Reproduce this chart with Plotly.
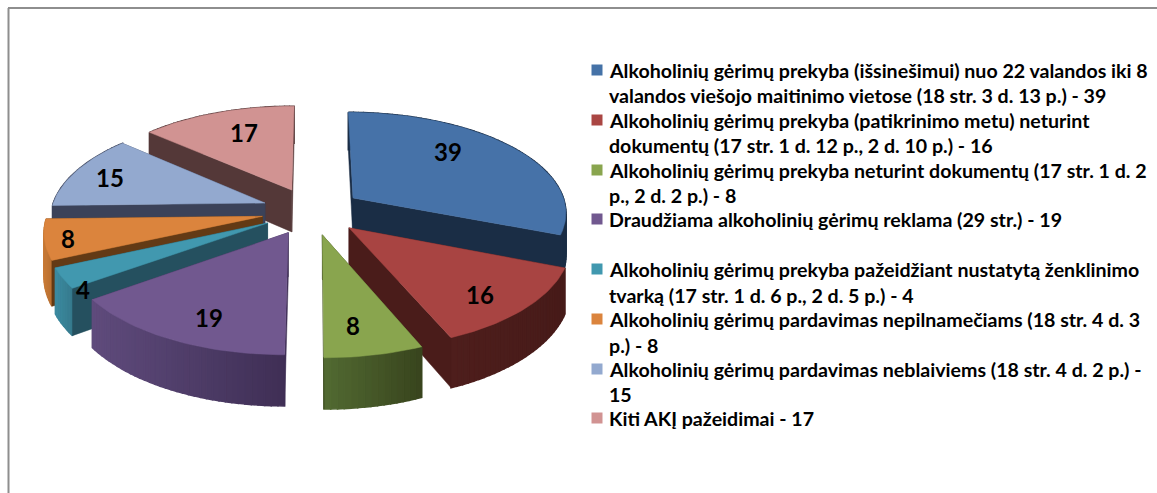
import math
import plotly.graph_objects as go

# ---- data ----
categories = [
    "Alkoholinių gėrimų prekyba (išsinešimui) nuo 22 valandos iki 8 valandos viešojo maitinimo vietose (18 str. 3 d. 13 p.) - 39",
    "Alkoholinių gėrimų prekyba (patikrinimo metu) neturint dokumentų (17 str. 1 d. 12 p., 2 d. 10 p.) - 16",
    "Alkoholinių gėrimų prekyba neturint dokumentų (17 str. 1 d. 2 p., 2 d. 2 p.) - 8",
    "Draudžiama alkoholinių gėrimų reklama (29 str.) - 19",
    "Alkoholinių gėrimų prekyba pažeidžiant nustatytą ženklinimo tvarką (17 str. 1 d. 6 p., 2 d. 5 p.) - 4",
    "Alkoholinių gėrimų pardavimas nepilnamečiams (18 str. 4 d. 3 p.) - 8",
    "Alkoholinių gėrimų pardavimas neblaiviems (18 str. 4 d. 2 p.) - 15",
    "Kiti AKĮ pažeidimai - 17",
]
values = [39, 16, 8, 19, 4, 8, 15, 17]
legend_lines = [
    ["Alkoholinių gėrimų prekyba (išsinešimui) nuo 22 valandos iki 8",
     "valandos viešojo maitinimo vietose (18 str. 3 d. 13 p.) - 39"],
    ["Alkoholinių gėrimų prekyba (patikrinimo metu) neturint",
     "dokumentų (17 str. 1 d. 12 p., 2 d. 10 p.) - 16"],
    ["Alkoholinių gėrimų prekyba neturint dokumentų (17 str. 1 d. 2",
     "p., 2 d. 2 p.) - 8"],
    ["Draudžiama alkoholinių gėrimų reklama (29 str.) - 19"],
    ["Alkoholinių gėrimų prekyba pažeidžiant nustatytą ženklinimo",
     "tvarką (17 str. 1 d. 6 p., 2 d. 5 p.) - 4"],
    ["Alkoholinių gėrimų pardavimas nepilnamečiams (18 str. 4 d. 3",
     "p.) - 8"],
    ["Alkoholinių gėrimų pardavimas neblaiviems (18 str. 4 d. 2 p.) -",
     "15"],
    ["Kiti AKĮ pažeidimai - 17"],
]

# ---- style ----
top_colors = ["#4672A8", "#A84442", "#89A54E", "#71588F", "#4198AF", "#DB843D", "#93A9CF", "#D19392"]
legend_colors = ["#4572A7", "#AA4643", "#89A54E", "#71588F", "#4198AF", "#DB843D", "#93A9CF", "#D19392"]
edge_colors = ["#1A2D45", "#4A1C1A", "#3A461E", "#3F2F55", "#25505F", "#633A15", "#3B4259", "#543838"]
arc_left = ["#1A2D45", "#4E1E1C", "#526A32", "#5F4B7C", "#3B8AA0", "#C87A36", "#3B4259", "#543838"]
arc_right = ["#1A2D45", "#471B19", "#38441D", "#3F2F55", "#35798C", "#B56E30", "#3B4259", "#543838"]
paint_order = [0, 7, 6, 5, 4, 1, 2, 3]
label_nudges = [(-3, -15), (29, 20), (1, 23), (-13, 24), (-65, 34), (-65, 8), (-40, -6), (-1, -9)]

FONT = "Lato, Carlito, Calibri, sans-serif"
# projection of the exploded pie (unit radius) onto the page
CX, CY, AX, BY, PERSP, HEIGHT, EXPLODE = 312, 211, 214, 100, 0.131, 43, 0.236
ARC_STEP_DEG = 1.5


def project(x, y, drop=False):
    w = 1 + PERSP * y
    return CX + AX * x / w, CY - BY * y / w + (HEIGHT / w if drop else 0)


def mix(c1, c2, t):
    a = [int(c1[i:i + 2], 16) for i in (1, 3, 5)]
    b = [int(c2[i:i + 2], 16) for i in (1, 3, 5)]
    return "#%02X%02X%02X" % tuple(round(p + (q - p) * t) for p, q in zip(a, b))


total = sum(values)
spans = []
cum = 0
for v in values:
    spans.append((cum / total * 2 * math.pi, (cum + v) / total * 2 * math.pi))
    cum += v


def apex(i):
    mid = sum(spans[i]) / 2
    return EXPLODE * math.sin(mid), EXPLODE * math.cos(mid)


def rim(i, t):
    ax, ay = apex(i)
    return ax + math.sin(t), ay + math.cos(t)


def poly(fig, pts, color, lw=0.5):
    xs = [p[0] for p in pts] + [pts[0][0]]
    ys = [p[1] for p in pts] + [pts[0][1]]
    fig.add_trace(go.Scatter(x=xs, y=ys, mode="lines", fill="toself", fillcolor=color,
                             line=dict(color=color, width=lw), hoverinfo="skip", showlegend=False))


fig = go.Figure()

for i in paint_order:
    t0, t1 = spans[i]
    n = max(2, int(math.degrees(t1 - t0) / ARC_STEP_DEG))
    ts = [t0 + (t1 - t0) * k / n for k in range(n + 1)]
    rims = [rim(i, t) for t in ts]
    a = apex(i)
    # radial side walls: the one at the back first, the one in front last
    right_side = (t0 + t1) / 2 < math.pi
    back_t, front_t = (t0, t1) if right_side else (t1, t0)
    r = rim(i, back_t)
    poly(fig, [project(*a), project(*r), project(*r, True), project(*a, True)], edge_colors[i])
    # curved outer wall, shaded from left to right
    xs_screen = [project(*r)[0] for r in rims]
    lo, hi = min(xs_screen), max(xs_screen)
    for k in range(n):
        r0, r1 = rims[k], rims[k + 1]
        f = ((xs_screen[k] + xs_screen[k + 1]) / 2 - lo) / max(hi - lo, 1)
        poly(fig, [project(*r0), project(*r1), project(*r1, True), project(*r0, True)],
             mix(arc_left[i], arc_right[i], f), lw=1.5)
    r = rim(i, front_t)
    poly(fig, [project(*a), project(*r), project(*r, True), project(*a, True)], edge_colors[i])
    # top face
    poly(fig, [project(*a)] + [project(*r) for r in rims], top_colors[i])

# data labels
for i, v in enumerate(values):
    mid = sum(spans[i]) / 2
    ax_, ay_ = apex(i)
    sx, sy = project(ax_ + 0.6 * math.sin(mid), ay_ + 0.6 * math.cos(mid))
    fig.add_annotation(x=sx + label_nudges[i][0], y=sy + label_nudges[i][1], text=str(v), showarrow=False,
                       font=dict(family=FONT, size=24, color="black", weight="bold"),
                       xanchor="center", yanchor="middle")

# legend
LEGEND_X, LEGEND_MARK_X = 607, 597
line_y = [70, 95, 120, 145, 170, 195, 219, 269, 295, 319, 345, 369, 394, 418]
k = 0
for i, lines in enumerate(legend_lines):
    fig.add_trace(go.Scatter(x=[LEGEND_MARK_X], y=[line_y[k]], mode="markers",
                             marker=dict(symbol="square", size=11, color=legend_colors[i], line=dict(width=0)),
                             name=categories[i], hoverinfo="skip", showlegend=False))
    for ln in lines:
        fig.add_annotation(x=LEGEND_X, y=line_y[k], text=ln, showarrow=False, xanchor="left", yanchor="middle",
                           font=dict(family=FONT, size=19.6, color="black", weight="bold"))
        k += 1

fig.update_layout(
    width=1157, height=493, margin=dict(l=0, r=0, t=0, b=0),
    paper_bgcolor="white", plot_bgcolor="white",
    xaxis=dict(range=[0, 1157], visible=False, fixedrange=True),
    yaxis=dict(range=[493, 0], visible=False, fixedrange=True),
    showlegend=False,
    shapes=[
        dict(type="line", x0=8, x1=1157, y0=8, y1=8, line=dict(color="#8E8E8E", width=2)),
        dict(type="line", x0=8.5, x1=8.5, y0=8, y1=493, line=dict(color="#8E8E8E", width=2)),
    ],
)
fig.write_html("out.html", config=dict(displayModeBar=False),
               post_script="document.body.style.margin='0';document.body.style.overflow='hidden';")
